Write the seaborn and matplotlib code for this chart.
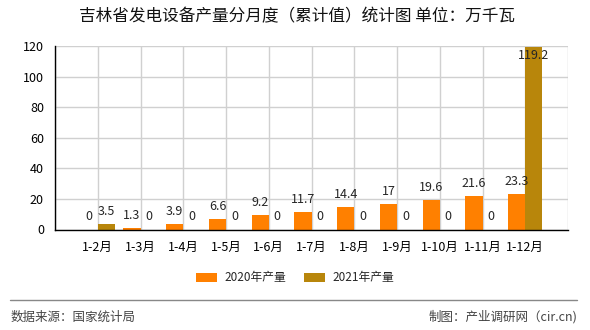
import matplotlib
matplotlib.use("Agg")
import matplotlib.pyplot as plt
import seaborn as sns
import pandas as pd
from matplotlib.patches import Patch
from matplotlib.lines import Line2D

months = ["1-2月", "1-3月", "1-4月", "1-5月", "1-6月", "1-7月", "1-8月",
          "1-9月", "1-10月", "1-11月", "1-12月"]
v2020 = [0, 1.3, 3.9, 6.6, 9.2, 11.7, 14.4, 17, 19.6, 21.6, 23.3]
v2021 = [3.5, 0, 0, 0, 0, 0, 0, 0, 0, 0, 119.2]
series = ["2020年产量", "2021年产量"]
colors = ["#FF8000", "#B8860B"]
yticks = [0, 20, 40, 60, 80, 100, 120]

sns.set_style("white")
plt.rcParams["font.family"] = ["Noto Sans CJK SC", "DejaVu Sans"]

df = pd.DataFrame({
    "month": months * 2,
    "value": v2020 + v2021,
    "year": [series[0]] * len(months) + [series[1]] * len(months),
})

fig = plt.figure(figsize=(5.9, 3.3), dpi=100)
ax = fig.add_axes([55 / 590, 1 - 229.5 / 330, (568 - 55) / 590, (229.5 - 46) / 330])

sns.barplot(data=df, x="month", y="value", hue="year", order=months,
            hue_order=series, palette=colors, width=0.8, dodge=True,
            saturation=1, ax=ax, legend=False, zorder=3,
            linewidth=0, edgecolor="none")

ax.set_xlim(-1, len(months))
ax.set_ylim(0, 120)
ax.set_xticks(range(-1, len(months) + 1))
ax.set_xticklabels([""] + months + [""], fontsize=9)
ax.set_yticks(yticks)
ax.set_yticklabels([str(t) for t in yticks], fontsize=9)
ax.set_xlabel("")
ax.set_ylabel("")
ax.grid(True, color="#d0d0d0", lw=1, zorder=0)
ax.set_axisbelow(True)
for s in ["top", "right"]:
    ax.spines[s].set_visible(False)
for s in ["left", "bottom"]:
    ax.spines[s].set_color("black")
    ax.spines[s].set_linewidth(1)
    ax.spines[s].set_zorder(4)
ax.tick_params(axis="both", direction="out", length=4, width=1, color="black",
               labelcolor="black", pad=4)

for vals, off in [(v2020, -0.2), (v2021, 0.2)]:
    for i, v in enumerate(vals):
        lbl = f"{v:g}"
        if v + 8 > 120:
            ax.annotate(lbl, (i + off, v), xytext=(0, -6), textcoords="offset points",
                        ha="center", va="center", fontsize=9, zorder=5)
        else:
            ax.annotate(lbl, (i + off, v), xytext=(0, 9), textcoords="offset points",
                        ha="center", va="center", fontsize=9, zorder=5)

fig.text(297 / 590, 1 - 17 / 330, "吉林省发电设备产量分月度（累计值）统计图 单位：万千瓦",
         ha="center", va="center", fontsize=12, color="#111111", fontweight="medium")

handles = [Patch(facecolor=c, edgecolor="none") for c in colors]
fig.legend(handles, series, loc="center", bbox_to_anchor=(295 / 590, 1 - 278 / 330),
           ncol=2, frameon=False, fontsize=8.5, handlelength=1.8, handleheight=0.9,
           handletextpad=0.6, columnspacing=1.5)

fig.add_artist(Line2D([10 / 590, 577 / 590], [1 - 300 / 330] * 2, color="#888888", lw=1))
fig.text(11 / 590, 1 - 317 / 330, "数据来源：国家统计局", ha="left", va="center",
         fontsize=9, color="#444444")
fig.text(577 / 590, 1 - 317 / 330, "制图：产业调研网（cir.cn)", ha="right", va="center",
         fontsize=9, color="#444444")

fig.savefig("out.png", dpi=100)
